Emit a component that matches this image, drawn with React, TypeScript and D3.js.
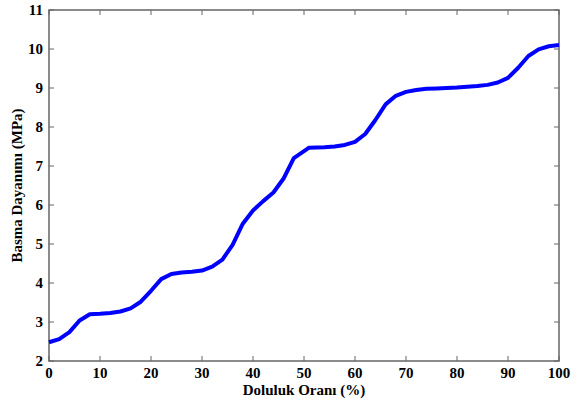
import React, { useEffect, useRef } from "react";
import * as d3 from "d3";

// Doluluk oranı (%) vs basma dayanımı (MPa)
const doluluk = [0, 2, 4, 6, 8, 10, 12, 14, 16, 18, 20, 22, 24, 26, 28, 30, 32, 34, 36, 38, 40, 42, 44, 46, 48, 51, 54, 56, 58, 60, 62, 64, 66, 68, 70, 72, 74, 76, 78, 80, 82, 84, 86, 88, 90, 92, 94, 96, 98, 100];
const dayanim = [2.48, 2.56, 2.74, 3.04, 3.2, 3.21, 3.23, 3.27, 3.35, 3.52, 3.8, 4.1, 4.23, 4.27, 4.29, 4.32, 4.42, 4.6, 4.98, 5.52, 5.86, 6.1, 6.32, 6.68, 7.2, 7.47, 7.48, 7.5, 7.54, 7.62, 7.82, 8.18, 8.58, 8.8, 8.9, 8.95, 8.98, 8.99, 9.0, 9.01, 9.03, 9.05, 9.08, 9.14, 9.26, 9.52, 9.82, 9.99, 10.07, 10.1];
const xTicks = [0, 10, 20, 30, 40, 50, 60, 70, 80, 90, 100];
const yTicks = [2, 3, 4, 5, 6, 7, 8, 9, 10, 11];

const W = 580;
const H = 401;
const margin = { top: 10, right: 21, bottom: 40, left: 49 };

const App = () => {
  const ref = useRef<SVGSVGElement>(null);

  useEffect(() => {
    const svg = d3.select(ref.current);
    svg.selectAll("*").remove();

    const x = d3.scaleLinear().domain([0, 100]).range([margin.left, W - margin.right]);
    const y = d3.scaleLinear().domain([2, 11]).range([H - margin.bottom, margin.top]);
    const font = "'Liberation Serif', 'Times New Roman', serif";

    // frame
    svg.append("rect")
      .attr("x", x(0)).attr("y", y(11))
      .attr("width", x(100) - x(0)).attr("height", y(2) - y(11))
      .attr("fill", "none").attr("stroke", "#666").attr("stroke-width", 1.5);

    // ticks (inward, all four sides)
    const tl = 5;
    const tg = svg.append("g").attr("stroke", "#666").attr("stroke-width", 1);
    xTicks.forEach(t => {
      tg.append("line").attr("x1", x(t)).attr("x2", x(t)).attr("y1", y(2)).attr("y2", y(2) - tl);
      tg.append("line").attr("x1", x(t)).attr("x2", x(t)).attr("y1", y(11)).attr("y2", y(11) + tl);
    });
    yTicks.forEach(t => {
      tg.append("line").attr("y1", y(t)).attr("y2", y(t)).attr("x1", x(0)).attr("x2", x(0) + tl);
      tg.append("line").attr("y1", y(t)).attr("y2", y(t)).attr("x1", x(100)).attr("x2", x(100) - tl);
    });

    // tick labels
    svg.append("g").selectAll("text").data(xTicks).enter().append("text")
      .attr("x", d => x(d)).attr("y", y(2) + 17)
      .attr("text-anchor", "middle")
      .attr("font-family", font).attr("font-weight", "bold").attr("font-size", 15)
      .text(d => d);
    svg.append("g").selectAll("text").data(yTicks).enter().append("text")
      .attr("x", x(0) - 6).attr("y", d => y(d) + 5)
      .attr("text-anchor", "end")
      .attr("font-family", font).attr("font-weight", "bold").attr("font-size", 15)
      .text(d => d);

    // axis titles
    svg.append("text")
      .attr("x", (x(0) + x(100)) / 2).attr("y", H - 6)
      .attr("text-anchor", "middle")
      .attr("font-family", font).attr("font-weight", "bold").attr("font-size", 15)
      .text("Doluluk Oranı (%)");
    svg.append("text")
      .attr("transform", `translate(22,${(y(2) + y(11)) / 2}) rotate(-90)`)
      .attr("text-anchor", "middle")
      .attr("font-family", font).attr("font-weight", "bold").attr("font-size", 15)
      .text("Basma Dayanımı (MPa)");

    // curve
    const pts = doluluk.map((d, i) => [d, dayanim[i]] as [number, number]);
    const line = d3.line<[number, number]>().x(d => x(d[0])).y(d => y(d[1]));
    svg.append("path")
      .attr("d", line(pts))
      .attr("fill", "none").attr("stroke", "#0000ff")
      .attr("stroke-width", 4).attr("stroke-linejoin", "round");
  }, []);

  return (
    <svg ref={ref} width={W} height={H}
      style={{ position: "absolute", left: 0, top: 0, background: "#fff" }} />
  );
};

export default App;
